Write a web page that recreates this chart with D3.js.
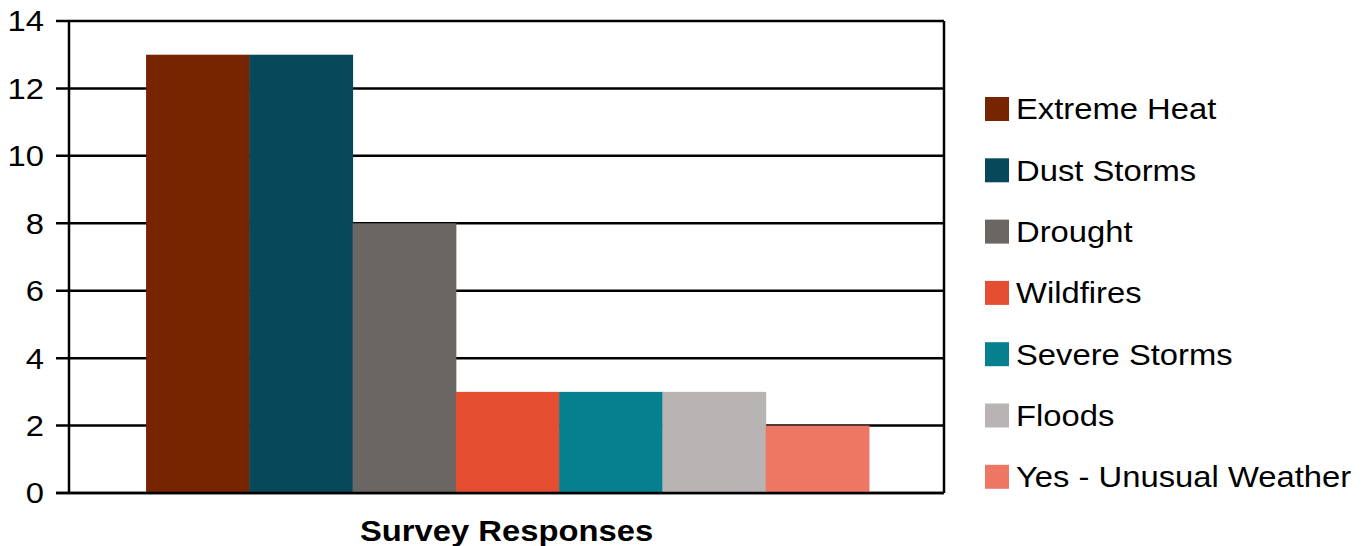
<!DOCTYPE html>
<html>
<head>
<meta charset="utf-8">
<script src="https://cdn.jsdelivr.net/npm/d3@7"></script>
<style>
	body { margin: 0; background: #fff; }
	svg { display: block; font-family: 'Liberation Sans', Arial, sans-serif; }
	.axis-line { stroke: #000; stroke-width: 2.5; }
</style>
</head>
<body>
<div id="chart"></div>
<script>
const categories = ['Survey Responses'];
const seriesNames = ['Extreme Heat', 'Dust Storms', 'Drought', 'Wildfires', 'Severe Storms', 'Floods', 'Yes - Unusual Weather'];
const seriesValues = [13, 13, 8, 3, 3, 3, 2];
const seriesColors = ['#772400', '#07495a', '#6a6664', '#e54e31', '#06808e', '#b8b4b3', '#ee7763'];
const yTicks = [0, 2, 4, 6, 8, 10, 12, 14];

(() => {
	const totalWidth = 1366;
	const totalHeight = 546;
	const margin = { top: 21, right: 422, bottom: 53, left: 69 };
	const width = totalWidth - margin.left - margin.right;
	const height = totalHeight - margin.top - margin.bottom;
	const stretch = 1.13; // text in the reference is a bit wider than plain Liberation

	const svg = d3.select('#chart').append('svg')
		.attr('width', totalWidth)
		.attr('height', totalHeight);
	const chart = svg.append('g')
		.attr('transform', `translate(${margin.left}, ${margin.top})`);

	// scales
	const x0 = d3.scaleBand()
		.domain(categories)
		.range([0, width])
		.padding(0.0952);
	const x1 = d3.scaleBand()
		.domain(seriesNames)
		.range([0, x0.bandwidth()]);
	const y = d3.scaleLinear()
		.domain([0, 14])
		.range([height, 0]);

	// gridlines + ticks
	chart.selectAll('.grid')
		.data(yTicks)
		.enter().append('line')
			.attr('class', 'axis-line')
			.attr('x1', -13)
			.attr('x2', width)
			.attr('y1', d => y(d))
			.attr('y2', d => y(d));

	// bars
	const rows = seriesNames.map((name, i) => ({ name, value: seriesValues[i], color: seriesColors[i] }));
	chart.selectAll('.bar')
		.data(rows)
		.enter().append('rect')
			.attr('class', 'bar')
			.attr('x', d => x0(categories[0]) + x1(d.name) + 1)
			.attr('width', x1.bandwidth() + 0.5)
			.attr('y', d => y(d.value))
			.attr('height', d => y(0) - y(d.value))
			.style('fill', d => d.color);

	// frame
	chart.append('line').attr('class', 'axis-line')
		.attr('x1', 0).attr('x2', 0).attr('y1', 0).attr('y2', height);
	chart.append('line').attr('class', 'axis-line')
		.attr('x1', width).attr('x2', width).attr('y1', 0).attr('y2', height);
	chart.append('line').attr('class', 'axis-line')
		.attr('x1', -13).attr('x2', width).attr('y1', height).attr('y2', height);

	// y labels
	chart.selectAll('.y-label')
		.data(yTicks)
		.enter().append('text')
			.attr('transform', d => `translate(-25, ${y(d)}) scale(${stretch}, 1)`)
			.attr('dy', '0.36em')
			.attr('text-anchor', 'end')
			.style('font-size', '29px')
			.text(d => d);

	// x label
	chart.append('text')
		.attr('transform', `translate(${x0(categories[0]) + x0.bandwidth() / 2}, ${height + 48}) scale(${stretch}, 1)`)
		.attr('text-anchor', 'middle')
		.style('font-size', '29px')
		.style('font-weight', 'bold')
		.text(categories[0]);

	// legend
	const legend = svg.append('g')
		.attr('transform', 'translate(985, 97)');
	const items = legend.selectAll('.legend-item')
		.data(rows)
		.enter().append('g')
			.attr('transform', (d, i) => `translate(0, ${i * 61.3})`);
	items.append('rect')
		.attr('width', 24)
		.attr('height', 24)
		.style('fill', d => d.color);
	items.append('text')
		.attr('transform', `translate(31, 12) scale(${stretch}, 1)`)
		.attr('dy', '0.36em')
		.style('font-size', '29px')
		.text(d => d.name);
})();
</script>
</body>
</html>
